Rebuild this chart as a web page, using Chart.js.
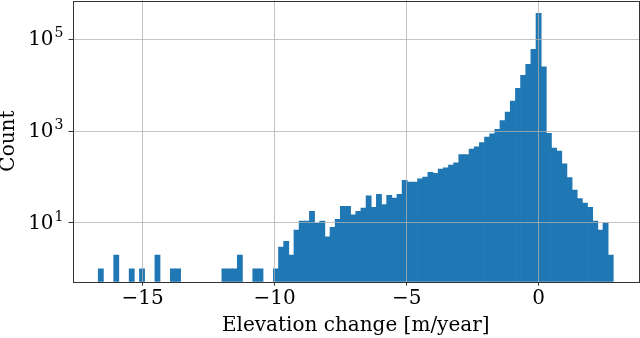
<!DOCTYPE html>
<html>
<head>
<meta charset="utf-8">
<script src="https://cdn.jsdelivr.net/npm/chart.js@4.4.1/dist/chart.umd.min.js"></script>
<style>
  body { margin: 0; background: #fff; }
</style>
</head>
<body>
<canvas id="myChart" width="640" height="338"></canvas>
<script>
// histogram range (100 equal bins between these edges)
const histMin = -16.68
const histMax = 2.826

// counts per bin, left to right
const counts = [
  1, 0, 0, 2, 0, 0, 1, 0, 1, 0,
  0, 2, 0, 0, 1, 1, 0, 0, 0, 0,
  0, 0, 0, 0, 1, 1, 1, 2, 0, 0,
  1, 1, 0, 0, 1, 3, 4, 2, 7, 11,
  11, 18, 10, 11, 5, 8, 12, 23, 23, 15,
  18, 21, 39, 22, 42, 25, 40, 35, 42, 85,
  78, 78, 92, 100, 126, 120, 149, 159, 182, 204,
  310, 310, 405, 455, 560, 740, 870, 1100, 1700, 2600,
  4500, 8500, 16300, 28600, 60000, 367000, 25000, 890, 425, 367,
  195, 97, 52, 34, 27, 22, 11, 7, 10, 2
]

// tick labels
const xTicks = [-15, -10, -5, 0]
const yTicks = [10, 1000, 100000]
const yTickExp = ['1', '3', '5']

const binWidth = (histMax - histMin) / counts.length
const bars = []
counts.forEach((c, i) => {
    if (c > 0) bars.push({ x: histMin + (i + 0.5) * binWidth, y: c })
})

const serif = "'DejaVu Serif', serif"

// frame round the plot + "10^n" labels on the log axis
const frame = {
    id: 'frame',
    afterDraw(chart) {
        const { ctx, chartArea: a } = chart
        const y = chart.scales.y
        ctx.save()
        ctx.strokeStyle = '#333'
        ctx.lineWidth = 1
        ctx.strokeRect(Math.round(a.left) + 0.5, Math.round(a.top) + 0.5,
            Math.round(a.right - a.left) - 1, Math.round(a.bottom - a.top))

        ctx.fillStyle = '#000'
        ctx.textBaseline = 'middle'
        yTicks.forEach((v, i) => {
            const py = y.getPixelForValue(v)
            const right = a.left - 9
            ctx.font = '14px ' + serif
            ctx.textAlign = 'right'
            const expW = ctx.measureText(yTickExp[i]).width
            ctx.fillText(yTickExp[i], right, py - 6)
            ctx.font = '20px ' + serif
            ctx.fillText('10', right - expW - 1, py + 0.5)
        })
        ctx.restore()
    }
}

const ctx = document.getElementById('myChart').getContext('2d')

const myChart = new Chart(ctx, {
    type: 'bar',
    data: {
        datasets: [{
            data: bars,
            backgroundColor: '#1f77b4',
            borderWidth: 0,
            barPercentage: 1,
            categoryPercentage: 1
        }]
    },
    plugins: [frame],
    options: {
        responsive: false,
        animation: false,
        devicePixelRatio: 1,
        layout: { padding: { top: 0.5, right: 1, left: 0, bottom: 0 } },
        plugins: {
            legend: { display: false },
            tooltip: { enabled: false }
        },
        scales: {
            x: {
                type: 'linear',
                offset: false,
                min: -17.655,
                max: 3.80,
                afterBuildTicks: axis => { axis.ticks = xTicks.map(v => ({ value: v })) },
                afterFit: axis => {
                    axis.height = 56.3
                    axis.paddingLeft = 0
                    axis.paddingRight = 0
                },
                border: { display: false },
                grid: {
                    offset: false,
                    z: 1,
                    color: 'rgba(176,176,176,0.75)',
                    tickColor: '#333',
                    tickLength: 4
                },
                ticks: {
                    color: '#000',
                    padding: 1,
                    maxRotation: 0,
                    font: { family: serif, size: 20 },
                    callback: v => String(v).replace('-', '\u2212')
                },
                title: {
                    display: true,
                    text: 'Elevation change [m/year]',
                    color: '#000',
                    font: { family: serif, size: 20 },
                    padding: { top: 0, bottom: 0 }
                }
            },
            y: {
                type: 'logarithmic',
                min: 0.527,
                max: 697000,
                afterBuildTicks: axis => { axis.ticks = yTicks.map(v => ({ value: v })) },
                afterFit: axis => {
                    axis.width = 72.5
                    axis.paddingTop = 0
                    axis.paddingBottom = 0
                },
                border: { display: false },
                grid: {
                    z: 1,
                    color: 'rgba(176,176,176,0.75)',
                    tickColor: '#333',
                    tickLength: 4
                },
                ticks: {
                    color: '#000',
                    padding: 6,
                    font: { family: serif, size: 20 },
                    callback: () => ''
                },
                title: {
                    display: true,
                    text: 'Count',
                    color: '#000',
                    font: { family: serif, size: 20 },
                    padding: { top: -3, bottom: 0 }
                }
            }
        }
    }
})
</script>
</body>
</html>
